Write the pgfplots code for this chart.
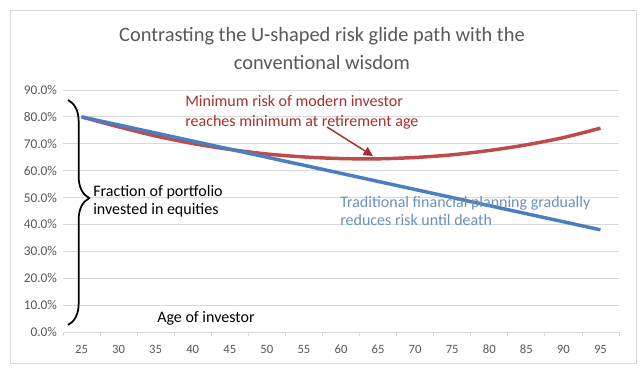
\documentclass[border=0pt]{standalone}
\usepackage{pgfplots}
\pgfplotsset{compat=1.18}
\usepackage{fontspec}
\setmainfont{Carlito}
\usetikzlibrary{decorations.pathreplacing,arrows.meta}
\definecolor{gridc}{HTML}{D9D9D9}
\definecolor{txt}{HTML}{595959}
\definecolor{serred}{HTML}{BE4B4B}
\definecolor{serblue}{HTML}{4C7DC0}
\definecolor{annred}{HTML}{A5302F}
\definecolor{annblue}{HTML}{6A91BE}
\begin{document}
\begin{tikzpicture}[x=0.75pt,y=0.75pt]
\path[fill=white] (0,0) rectangle (640,377);
\draw[gridc] (10,14) rectangle (636,367);
\begin{axis}[
  at={(47.25pt,33.75pt)}, anchor=south west,
  scale only axis, width=417pt, height=181.5pt,
  xmin=22.5, xmax=97.5, ymin=0, ymax=90,
  xtick={25,30,...,95},
  minor xtick={22.5,27.5,...,97.5},
  major x tick style={draw=none},
  minor x tick style={gridc, line width=0.6pt},
  minor tick length=3pt,
  xtick align=outside,
  ytick={0,10,...,90},
  ymajorgrids, grid style={gridc, line width=0.6pt},
  axis x line*=bottom,
  axis y line*=left,
  y axis line style={draw=none},
  x axis line style={gridc, line width=0.6pt, -},
  ytick style={draw=none},
  /pgf/number format/assume math mode=true,
  yticklabel={\pgfmathprintnumber[fixed,fixed zerofill,precision=1]{\tick}\%},
  xticklabel style={font=\fontsize{9.5}{11}\selectfont, color=txt, yshift=-2pt},
  yticklabel style={font=\fontsize{10}{12}\selectfont, color=txt, xshift=-1pt},
  clip=false,
]
\addplot[serred, line width=2.6pt, smooth] coordinates {
(25,80.0) (30,76.3) (35,72.9) (40,70.1) (45,67.9) (50,66.2) (55,65.1) (60,64.5)
(65,64.4) (70,64.9) (75,65.9) (80,67.5) (85,69.6) (90,72.3) (95,75.8)};
\addplot[serblue, line width=2.6pt] coordinates {
(25,80) (30,77) (35,74) (40,71) (45,68) (50,65) (55,62) (60,59)
(65,56) (70,53) (75,50) (80,47) (85,44) (90,41) (95,38)};
\end{axis}
\node[font=\fontsize{15.3}{18}\selectfont, color=txt] at (322,341) {Contrasting the U-shaped risk glide path with the};
\node[font=\fontsize{15.3}{18}\selectfont, color=txt] at (322,314) {conventional wisdom};
\node[font=\fontsize{12}{14}\selectfont, color=annred, anchor=base west, inner sep=0pt] at (185,270) {Minimum risk of modern investor};
\node[font=\fontsize{12}{14}\selectfont, color=annred, anchor=base west, inner sep=0pt] at (185,250.5) {reaches minimum at retirement age};
\draw[annred, line width=1.1pt, -{Triangle[length=7pt,width=7pt]}] (327,250) -- (373,221);
\node[font=\fontsize{12}{14}\selectfont, color=annblue, anchor=base west, inner sep=0pt] at (340,169) {Traditional financial planning gradually};
\node[font=\fontsize{12}{14}\selectfont, color=annblue, anchor=base west, inner sep=0pt] at (340,151) {reduces risk until death};
\node[font=\fontsize{12}{14}\selectfont, color=black, anchor=base west, inner sep=0pt] at (93,180) {Fraction of portfolio};
\node[font=\fontsize{12}{14}\selectfont, color=black, anchor=base west, inner sep=0pt] at (93,162) {invested in equities};
\node[font=\fontsize{12}{14}\selectfont, color=black, anchor=base west, inner sep=0pt] at (157,54) {Age of investor};
\draw[black, line width=1.3pt, decorate, decoration={brace, amplitude=16pt, aspect=0.436}] (68,277) -- (68,52);
\end{tikzpicture}
\end{document}
